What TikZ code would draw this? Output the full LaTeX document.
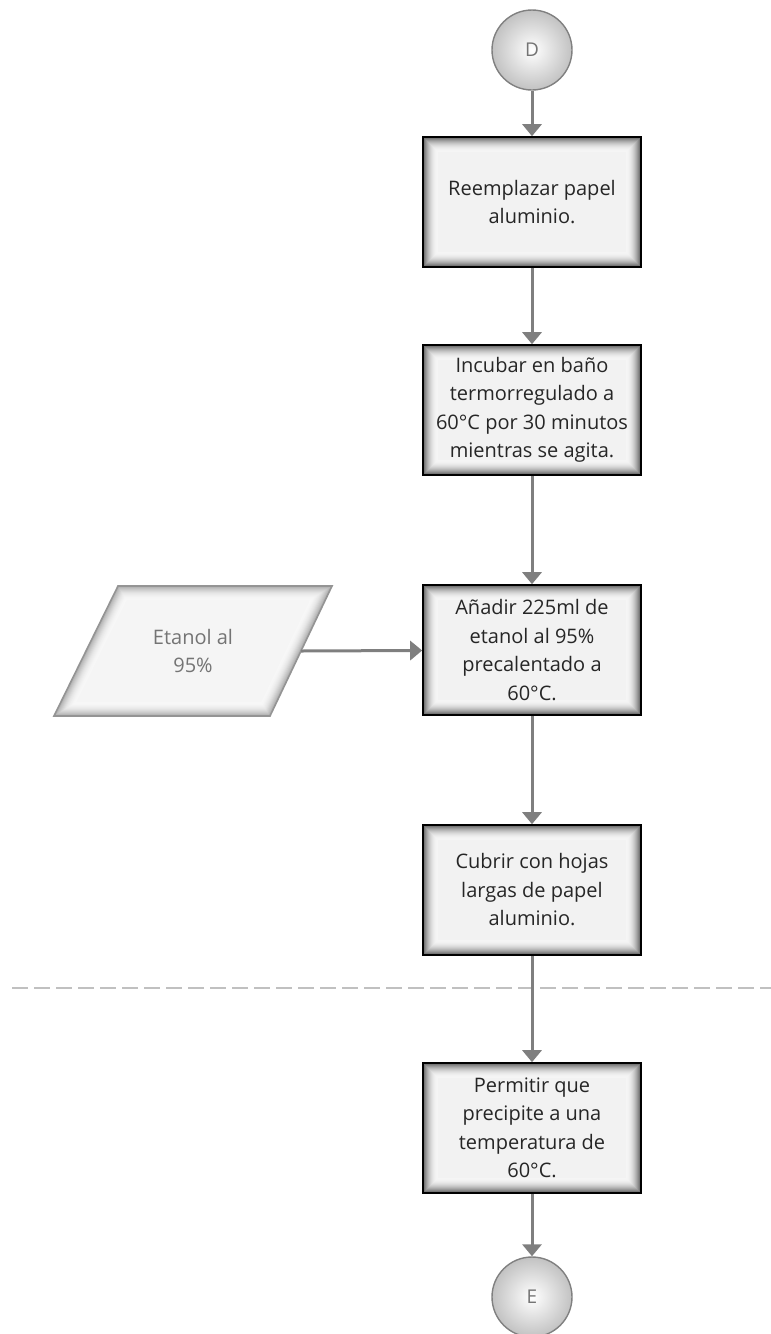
\documentclass[tikz,border=0pt]{standalone}
\usepackage{fontspec}
\setmainfont{Open Sans}
\usetikzlibrary{arrows.meta,calc}

\definecolor{linkgray}{HTML}{7F7F7F}
\definecolor{textdark}{HTML}{262626}
\definecolor{textlight}{HTML}{747474}
\definecolor{dashgray}{HTML}{C0C0C0}

\tikzset{
  % process box: black frame with a soft grey inner glow
  procbox/.style={
    draw=black, line width=1.6pt, minimum width=218pt, minimum height=130pt,
    inner sep=0pt, align=center, text=textdark, fill=black!5,
    font=\fontsize{20}{28.5}\selectfont,
    path picture={
      \foreach \i in {15,...,1}{
        \pgfmathsetmacro{\shade}{4+66*(1-\i/15)^2}
        \draw[line width=2*\i pt, black!\shade]
          (path picture bounding box.south west) rectangle
          (path picture bounding box.north east);
      }
    }},
  inputglow/.style={line join=miter},
  inputframe/.style={draw=black!42, line width=1.6pt, line join=miter},
  inputtext/.style={align=center, text=textlight,
    font=\fontsize{20}{28.5}\selectfont},
  % off-page connector
  connector/.style={
    circle, minimum size=80pt, inner sep=0pt, draw=black!50, line width=1.4pt,
    inner color=white, outer color=black!24, text=textlight,
    font=\fontsize{19}{22}\selectfont},
  flow/.style={draw=linkgray, line width=3pt,
    -{Triangle[width=19pt,length=12pt]}},
  divider/.style={draw=dashgray, line width=2pt, dash pattern=on 16pt off 6pt}
}

\begin{document}
\begin{tikzpicture}[x=1pt, y=-1pt]
  \useasboundingbox (0,0) rectangle (771,1334);

  % dashed separator
  \coordinate (divL) at (12,988);
  \coordinate (divR) at (771,988);
  \path[divider] (divL) -- (divR);

  % data input parallelogram
  \coordinate (pTL) at (118,586);
  \coordinate (pTR) at (332,586);
  \coordinate (pBR) at (270,716);
  \coordinate (pBL) at (54,716);
  \coordinate (pOut) at (301,651);
  \begin{scope}
    \clip (pTL) -- (pTR) -- (pBR) -- (pBL) -- cycle;
    \fill[black!4] (pTL) -- (pTR) -- (pBR) -- (pBL) -- cycle;
    \foreach \i in {14,...,1}{
      \pgfmathsetmacro{\shade}{3+34*(1-\i/14)^2}
      \draw[inputglow, line width=2*\i pt, black!\shade]
        (pTL) -- (pTR) -- (pBR) -- (pBL) -- cycle;
    }
  \end{scope}
  \draw[inputframe] (pTL) -- (pTR) -- (pBR) -- (pBL) -- cycle;
  \node[inputtext] (inp) at (193,651) {Etanol al\\95\%};

  \node[connector] (D) at (532,50) {D};
  \node[procbox] (b1) at (532,202) {Reemplazar papel\\aluminio.};
  \node[procbox] (b2) at (532,410) {Incubar en baño\\termorregulado a\\60°C por 30 minutos\\mientras se agita.};
  \node[procbox] (b3) at (532,650) {Añadir 225ml de\\etanol al 95\%\\precalentado a\\60°C.};
  \node[procbox] (b4) at (532,890) {Cubrir con hojas\\largas de papel\\aluminio.};
  \node[procbox] (b5) at (532,1128) {Permitir que\\precipite a una\\temperatura de\\60°C.};
  \node[connector] (E) at (532,1297) {E};

  \path[flow] (D) -- (b1);
  \path[flow] (b1) -- (b2);
  \path[flow] (b2) -- (b3);
  \path[flow] (b3) -- (b4);
  \path[flow] (b4) -- (b5);
  \path[flow] (b5) -- (E);
  \path[flow] (pOut) -- (b3);
\end{tikzpicture}
\end{document}
